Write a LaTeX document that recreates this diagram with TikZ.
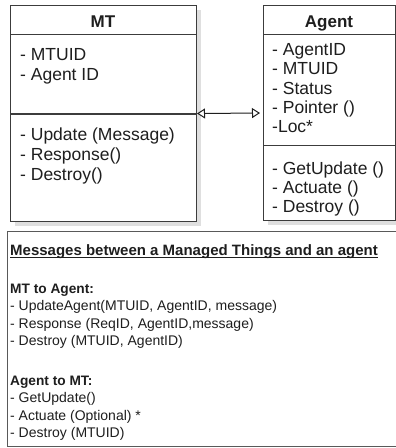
\documentclass[tikz,border=0pt]{standalone}
\usepackage{fontspec}
\setmainfont{Liberation Sans}
\usetikzlibrary{arrows.meta,shadows}
\definecolor{ink}{RGB}{30,30,30}
\definecolor{edge}{RGB}{60,60,60}
\begin{document}
\begin{tikzpicture}[x=1pt,y=-1pt,
  box/.style={draw=edge, line width=1pt, fill=white, inner sep=0pt, anchor=north west,
    drop shadow={shadow xshift=4pt, shadow yshift=-4pt, fill=gray!35, opacity=0.7}},
  plainbox/.style={draw=gray!70!black, line width=1pt, fill=white, inner sep=0pt, anchor=north west},
  big/.style={font=\fontsize{17.5}{20}\selectfont, text=ink, inner sep=0pt, anchor=base west},
  ttl/.style={font=\fontsize{17}{20}\selectfont\bfseries, text=ink, inner sep=0pt, anchor=base},
  small/.style={font=\fontsize{14}{16}\selectfont, text=ink, inner sep=0pt, anchor=base west},
  smallb/.style={small, font=\fontsize{13.7}{16}\selectfont\bfseries},
  headb/.style={small, font=\fontsize{15}{17}\selectfont\bfseries},
  sep/.style={draw=edge, line width=1pt},
  assoc/.style={draw=ink, line width=1pt, {Triangle[open,length=8pt,width=10pt,fill=white]}-{Triangle[open,length=8pt,width=10pt,fill=white]}}]
\useasboundingbox (0,0) rectangle (396,448);
\fill[white] (0,0) rectangle (396,448);
% boxes
\node[box, minimum width=186pt, minimum height=216pt] (mt) at (10,5) {};
\node[box, minimum width=132pt, minimum height=215pt] (agent) at (263,5) {};
\node[plainbox, minimum width=392pt, minimum height=215pt] (msgs) at (7,231) {};
% compartments
\draw[sep] (10,34) -- (196,34);
\draw[sep, line width=1.8pt] (10,114) -- (196,114);
\draw[sep] (263,34) -- (395,34);
\draw[sep] (263,145) -- (395,145);
% association
\draw[assoc, shorten >=3pt] (mt.east) -- (agent.west);
% MT texts
\node[ttl] (mttitle) at (103,27) {MT};
\node[big] (mta1) at (20,60) {- MTUID};
\node[big] (mta2) at (20,80) {- Agent ID};
\node[big] (mtm1) at (20,140.5) {- Update (Message)};
\node[big] (mtm2) at (20,160.5) {- Response()};
\node[big] (mtm3) at (20,180.5) {- Destroy()};
% Agent texts
\node[ttl] (agtitle) at (329,27) {Agent};
\node[big] (aga1) at (272,55.5) {- AgentID};
\node[big] (aga2) at (272,74.8) {- MTUID};
\node[big] (aga3) at (272,94.1) {- Status};
\node[big] (aga4) at (272,113.4) {- Pointer ()};
\node[big] (aga5) at (272,132.7) {-Loc*};
\node[big] (agm1) at (272,174) {- GetUpdate ()};
\node[big] (agm2) at (272,193.3) {- Actuate ()};
\node[big] (agm3) at (272,212.6) {- Destroy ()};
% messages
\node[headb] (msgtitle) at (10,255) {Messages between a Managed Things and an agent};
\draw[ink, line width=0.9pt] ([yshift=-2pt]msgtitle.base west) -- ([yshift=-2pt]msgtitle.base east);
\node[smallb] (m2a) at (10,293) {MT to Agent:};
\node[small] (m2a1) at (10,310.5) {- UpdateAgent(MTUID, AgentID, message)};
\node[small] (m2a2) at (10,328) {- Response (ReqID, AgentID,message)};
\node[small] (m2a3) at (10,345.5) {- Destroy (MTUID, AgentID)};
\node[smallb] (a2m) at (10,385) {Agent to MT:};
\node[small] (a2m1) at (10,402.5) {- GetUpdate()};
\node[small] (a2m2) at (10,420) {- Actuate (Optional) *};
\node[small] (a2m3) at (10,437.5) {- Destroy (MTUID)};
\end{tikzpicture}
\end{document}
